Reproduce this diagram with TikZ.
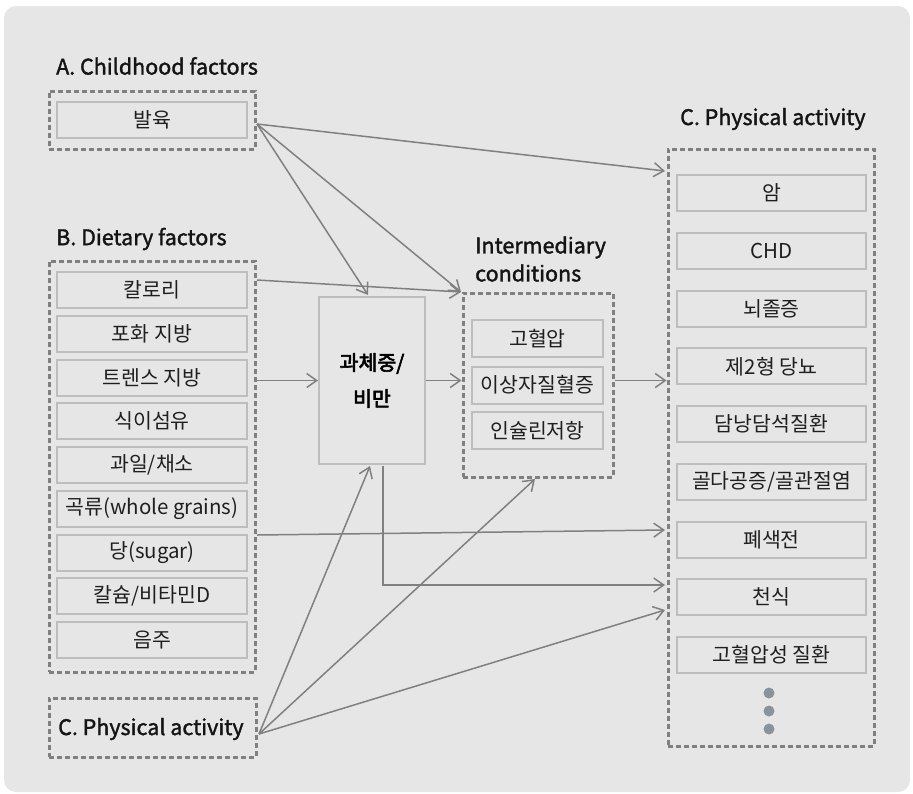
\documentclass[tikz,border=0pt]{standalone}
\usepackage{fontspec}
\setmainfont{Noto Sans CJK KR}
\newfontfamily\headfont[FakeBold=1.6]{Noto Sans CJK KR}
\newfontfamily\heavyfont[FakeBold=3]{Noto Sans CJK KR}
\usetikzlibrary{arrows.meta}
\definecolor{bgc}{HTML}{E6E6E6}
\definecolor{dashc}{HTML}{808080}
\definecolor{boxc}{HTML}{BDBDBD}
\definecolor{dotc}{HTML}{8A939B}
\tikzset{grp/.style={draw=dashc,line width=3pt,dash pattern=on 5pt off 3pt,inner sep=0pt},
 item/.style={draw=boxc,line width=2pt,fill=bgc,minimum width=190pt,minimum height=36pt,inner sep=0pt,font=\fontsize{20.5}{24}\selectfont,text=black!88},
 head/.style={font=\headfont\fontsize{21.5}{28}\selectfont,inner sep=0pt,text=black!92},
 arr/.style={draw=dashc,line width=1.5pt,-{Straight Barb[length=10pt,width=14pt]}}}
\begin{document}
\begin{tikzpicture}[x=1pt,y=-1pt]
\useasboundingbox (0,0) rectangle (913,793);
\fill[bgc,rounded corners=12pt] (4,6) rectangle (910,792);
% A. childhood
\node[head,anchor=west] (titA) at (56,66){A. Childhood factors};
\node[grp,minimum width=206pt,minimum height=58pt] (grpA) at (152,120){};
\node[item] (balyuk) at (152,120){발육};
% B. dietary
\node[head,anchor=west] (titB) at (56,239){B. Dietary factors};
\node[grp,minimum width=206pt,minimum height=411pt] (grpB) at (152,466.5){};
\foreach \i/\t in {0/칼로리,1/포화 지방,2/트렌스 지방,3/식이섬유,4/{과일/채소},5/곡류(whole grains),6/당(sugar),7/{칼슘/비타민D},8/음주}{\node[item] (diet\i) at (152,{290+43.75*\i}){\t};}
% C. physical activity (left)
\node[grp,minimum width=207pt,minimum height=59pt] (grpC) at (152.5,727.5){};
\node[head,anchor=west] (titC) at (58,729){C. Physical activity};
% overweight / obesity
\node[draw=boxc,line width=2pt,minimum width=106pt,minimum height=167pt,align=center,font=\heavyfont\fontsize{20.5}{36}\selectfont,text=black] (obese) at (372,380.5){과체중/\\비만};
% intermediary
\node[head,anchor=west,align=left] (titI) at (475,259){Intermediary\\conditions};
\node[grp,minimum width=150pt,minimum height=184pt] (grpI) at (538,385){};
\foreach \i/\t/\y in {0/고혈압/338.5,1/이상자질혈증/385,2/인슐린저항/430.5}{\node[item,minimum width=131pt,minimum height=37pt] (mid\i) at (537.5,\y){\t};}
% outcomes
\node[head,anchor=west] (titR) at (680,119){C. Physical activity};
\node[grp,minimum width=206pt,minimum height=597pt] (grpR) at (771,447.5){};
\foreach \i/\t in {0/암,1/CHD,2/뇌졸증,3/제2형 당뇨,4/담낭담석질환,5/{골다공증/골관절염},6/폐색전,7/천식,8/고혈압성 질환}{\node[item,minimum width=189pt] (out\i) at (771.5,{193+57.75*\i}){\t};}
\foreach \y in {693,711,729}{\fill[dotc] (769,\y) circle (5.5pt);}
% connectors
\coordinate (aout) at (257,124);\coordinate (bout) at (257,280);\coordinate (sout) at (257,535);\coordinate (cout) at (259,734);
\coordinate (obtop) at (368,295);\coordinate (obbot) at (370,466);\coordinate (obdown) at (383,466);
\coordinate (intop) at (461,292);\coordinate (inbot) at (535,479);
\coordinate (rin1) at (665,171);\coordinate (rin2) at (665,530);\coordinate (rin3) at (665,585);\coordinate (rin4) at (665,610);
\draw[arr] (aout) -- (rin1);\draw[arr] (aout) -- (obtop);\draw[arr] (aout) -- (intop);
\draw[arr] (bout) -- (intop);
\draw[arr] (grpB.east|-obese) -- (obese.west);
\draw[arr] (obese.east) -- (obese.east-|grpI.west);
\draw[arr] (obese.east-|grpI.east) -- (obese.east-|grpR.west);
\draw[arr] (sout) -- (rin2);
\draw[arr] (obdown) |- (rin3);
\draw[arr] (cout) -- (obbot);\draw[arr] (cout) -- (inbot);\draw[arr] (cout) -- (rin4);
\end{tikzpicture}
\end{document}
